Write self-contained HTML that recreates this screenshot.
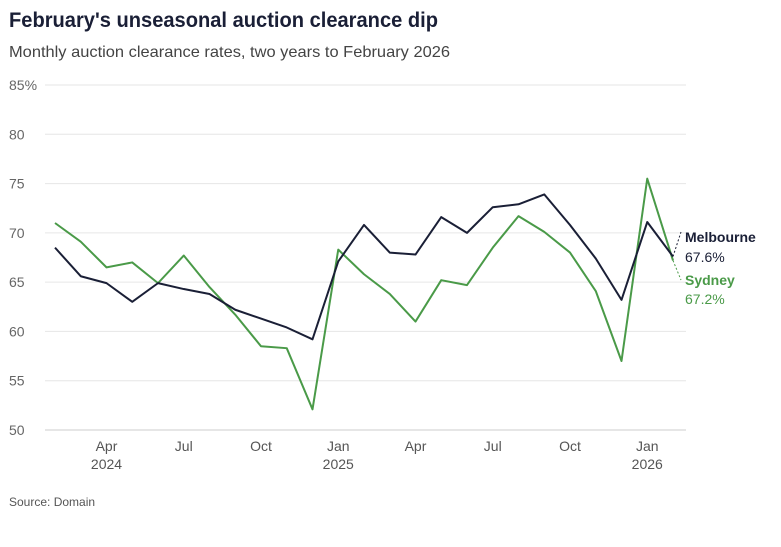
<!DOCTYPE html>
<html><head><meta charset="utf-8"><style>
body{margin:0;background:#fff;font-family:"Liberation Sans",sans-serif;}
svg text{font-family:"Liberation Sans",sans-serif;}
</style></head><body>
<svg width="781" height="542" xmlns="http://www.w3.org/2000/svg">
<text x="9" y="27" font-size="21" font-weight="bold" fill="#1a1f36" textLength="429" lengthAdjust="spacingAndGlyphs">February's unseasonal auction clearance dip</text>
<text x="9" y="57" font-size="16" fill="#444" textLength="441" lengthAdjust="spacingAndGlyphs">Monthly auction clearance rates, two years to February 2026</text>
<g id="grid"></g>
<g id="xaxis"></g>
<g id="series"></g>
<text x="9" y="506" font-size="12" fill="#555">Source: Domain</text>
</svg>
<script>
const yTicks=[50,55,60,65,70,75,80,85];
const xTickLabels=[["Apr","2024"],["Jul",""],["Oct",""],["Jan","2025"],["Apr",""],["Jul",""],["Oct",""],["Jan","2026"]];
const xTickMonths=[2,5,8,11,14,17,20,23];
const melbourne=[68.5,65.6,64.9,63.0,64.9,64.3,63.8,62.2,61.3,60.4,59.2,67.1,70.8,68.0,67.8,71.6,70.0,72.6,72.9,73.9,70.8,67.4,63.2,71.1,67.6];
const sydney=[71.0,69.1,66.5,67.0,64.9,67.7,64.5,61.7,58.5,58.3,52.1,68.3,65.8,63.8,61.0,65.2,64.7,68.5,71.7,70.1,68.0,64.1,57.0,75.5,67.2];
const NS="http://www.w3.org/2000/svg";
const x=i=>55+i*25.75;
const y=v=>430-(v-50)*(345/35);
function mk(t,a,p){const e=document.createElementNS(NS,t);for(const k in a)e.setAttribute(k,a[k]);p.appendChild(e);return e;}
const grid=document.getElementById('grid');
yTicks.forEach(v=>{
  const l=mk('line',{x1:45,x2:686,y1:y(v),y2:y(v),stroke:v===50?'#ccc':'#e6e6e6','stroke-width':1},grid);
  
  
  const t=mk('text',{x:9,y:y(v)+5,'font-size':14,fill:'#666'},grid);
  t.textContent=v===85?'85%':String(v);
  
  
});
const xa=document.getElementById('xaxis');
xTickMonths.forEach((m,i)=>{
  const t=mk('text',{x:x(m),y:451,'font-size':14,fill:'#555','text-anchor':'middle'},xa);
  t.textContent=xTickLabels[i][0];
  
  
  if(xTickLabels[i][1]){
    const t2=mk('text',{x:x(m),y:469,'font-size':14,fill:'#555','text-anchor':'middle'},xa);
    t2.textContent=xTickLabels[i][1];
    
    
  }
});
const sg=document.getElementById('series');
function line(d,c,name){
  const p=mk('polyline',{points:d.map((v,i)=>x(i)+','+y(v)).join(' '),fill:'none',stroke:c,'stroke-width':2,'stroke-linejoin':'round'},sg);
  
  
}
line(sydney,'#4a9a48','sydney-line');
line(melbourne,'#1a1f36','melbourne-line');
const n=melbourne.length-1, lx=x(n);
const c1=mk('line',{x1:lx,y1:y(melbourne[n]),x2:lx+8,y2:232,stroke:'#1a1f36','stroke-dasharray':'2,2'},sg);


const c2=mk('line',{x1:lx,y1:y(sydney[n]),x2:lx+8,y2:280,stroke:'#4a9a48','stroke-dasharray':'2,2'},sg);


[['Melbourne','#1a1f36',242,'bold','melbourne-label'],[melbourne[n].toFixed(1)+'%','#1a1f36',262,'normal','melbourne-value'],
 ['Sydney','#4a9a48',285,'bold','sydney-label'],[sydney[n].toFixed(1)+'%','#4a9a48',304,'normal','sydney-value']].forEach(a=>{
  const t=mk('text',{x:685,y:a[2],'font-size':14,fill:a[1],'font-weight':a[3]},sg);
  t.textContent=a[0];
  
  
});
</script>
</body></html>
